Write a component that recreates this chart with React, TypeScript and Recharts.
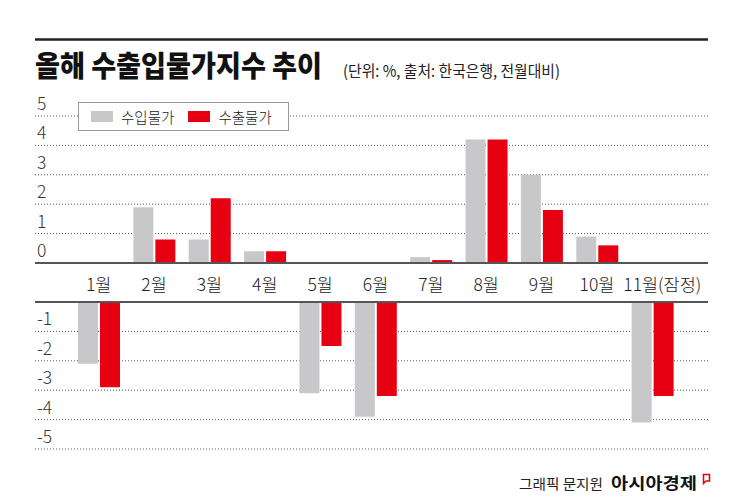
import React from 'react';
import { BarChart, Bar, XAxis, YAxis, CartesianGrid, Legend, ReferenceLine } from 'recharts';

const months = ['1월', '2월', '3월', '4월', '5월', '6월', '7월', '8월', '9월', '10월', '11월(잠정)'];
const importPrices = [-2.1, 1.9, 0.8, 0.4, -3.1, -3.9, 0.2, 4.2, 3.0, 0.9, -4.1];
const exportPrices = [-2.9, 0.8, 2.2, 0.4, -1.5, -3.2, 0.1, 4.2, 1.8, 0.6, -3.2];
const posTicks = [0, 1, 2, 3, 4, 5];
const negTicks = [-5, -4, -3, -2, -1];
const importName = '수입물가';
const exportName = '수출물가';

const GRAY = '#C8C8CA';
const RED = '#E60012';
const FONT = '"Noto Sans CJK KR", "Noto Sans", sans-serif';

const posData = months.map((m, i) => ({
  month: m,
  imp: Math.max(importPrices[i], 0),
  exp: Math.max(exportPrices[i], 0),
}));
const negData = months.map((m, i) => ({
  month: m,
  imp: Math.min(importPrices[i], 0),
  exp: Math.min(exportPrices[i], 0),
}));

const Y_W = 1;
const MARGIN_L = 35 - Y_W;
const MARGIN_R = 37;
const X_PAD = { left: 36, right: 28 };

const YTick = (props: any) => {
  const { y, payload } = props;
  return (
    <text x={37} y={y - 6} fontSize={17.5} fontWeight={300} fill="#333" fontFamily={FONT} textAnchor="start">
      {String(payload.value)}
    </text>
  );
};

const XTick = (props: any) => {
  const { x, payload, index } = props;
  const shift = index === months.length - 1 ? 10 : 0;
  return (
    <text x={x + shift} y={283} fontSize={17.5} fontWeight={300} fill="#222" fontFamily={FONT} textAnchor="middle" dominantBaseline="central">
      {payload.value}
    </text>
  );
};

const LegendContent = (props: any) => {
  const { payload } = props;
  return (
    <div
      style={{
        width: 209,
        height: 27,
        border: '1px solid #999',
        background: '#fff',
        display: 'flex',
        alignItems: 'center',
        boxSizing: 'content-box',
        fontFamily: FONT,
        fontSize: 14.5,
        fontWeight: 300,
        color: '#222',
      }}
    >
      {(payload || []).map((p: any, i: number) => (
        <div key={i} style={{ display: 'flex', alignItems: 'center', marginLeft: i === 0 ? 12 : 14 }}>
          <span style={{ display: 'inline-block', width: 22, height: 11, background: p.color, marginRight: 8 }} />
          <span style={{ lineHeight: '15px' }}>{p.value}</span>
        </div>
      ))}
    </div>
  );
};

export default function App() {
  return (
    <div style={{ position: 'absolute', left: 0, top: 0, width: 745, height: 503, background: '#fff', overflow: 'hidden' }}>
      <svg width={745} height={503} style={{ position: 'absolute', left: 0, top: 0 }}>
        <line x1={35} x2={708} y1={39.5} y2={39.5} stroke="#222" strokeWidth={2.5} />
        <text x={35} y={77} fontFamily={FONT} fontWeight={900} fontSize={29} fill="#111" textLength={287} lengthAdjust="spacingAndGlyphs">
          올해 수출입물가지수 추이
        </text>
        <text x={343} y={77} fontFamily={FONT} fontSize={16} fill="#222" textLength={217} lengthAdjust="spacingAndGlyphs">
          (단위: %, 출처: 한국은행, 전월대비)
        </text>
        <text x={519} y={489} fontFamily={FONT} fontSize={14} fill="#222" textLength={84} lengthAdjust="spacingAndGlyphs">
          그래픽 문지원
        </text>
        <text x={611} y={489} fontFamily={FONT} fontWeight={700} fontSize={16} fill="#111" textLength={86} lengthAdjust="spacingAndGlyphs">
          아시아경제
        </text>
        <path d="M703.5 474.5 h6 v6.5 h-3.5 l-2.5 2.5 z" fill="none" stroke={RED} strokeWidth={1.5} />
      </svg>

      <div style={{ position: 'absolute', left: 0, top: 0 }}>
        <BarChart
          width={745}
          height={301}
          data={posData}
          margin={{ top: 116, right: MARGIN_R, bottom: 0, left: MARGIN_L }}
          barSize={20}
          barGap={2}
        >
          <CartesianGrid horizontal vertical={false} stroke="#555" strokeDasharray="1 2" />
          <XAxis
            dataKey="month"
            height={38}
            padding={X_PAD}
            axisLine={{ stroke: '#555', strokeWidth: 2 }}
            tickLine={false}
            tick={<XTick />}
            interval={0}
          />
          <YAxis width={Y_W} domain={[0, 5]} ticks={posTicks} axisLine={false} tickLine={false} tick={<YTick />} interval={0} />
          <Legend
            layout="vertical"
            align="center"
            verticalAlign="middle"
            wrapperStyle={{ position: 'absolute', left: 78, top: 102, width: 211, height: 29 }}
            content={<LegendContent />}
          />
          <Bar dataKey="imp" name={importName} fill={GRAY} isAnimationActive={false} />
          <Bar dataKey="exp" name={exportName} fill={RED} isAnimationActive={false} />
        </BarChart>
      </div>

      <div style={{ position: 'absolute', left: 0, top: 290 }}>
        <BarChart
          width={745}
          height={170}
          data={negData}
          margin={{ top: 12, right: MARGIN_R, bottom: 11, left: MARGIN_L }}
          barSize={20}
          barGap={2}
        >
          <CartesianGrid horizontal vertical={false} stroke="#555" strokeDasharray="1 2" />
          <XAxis dataKey="month" hide padding={X_PAD} />
          <YAxis width={Y_W} domain={[-5, 0]} ticks={negTicks} axisLine={false} tickLine={false} tick={<YTick />} interval={0} />
          <Bar dataKey="imp" name={importName} fill={GRAY} isAnimationActive={false} />
          <Bar dataKey="exp" name={exportName} fill={RED} isAnimationActive={false} />
          <ReferenceLine y={0} stroke="#555" strokeWidth={2} />
        </BarChart>
      </div>
    </div>
  );
}
